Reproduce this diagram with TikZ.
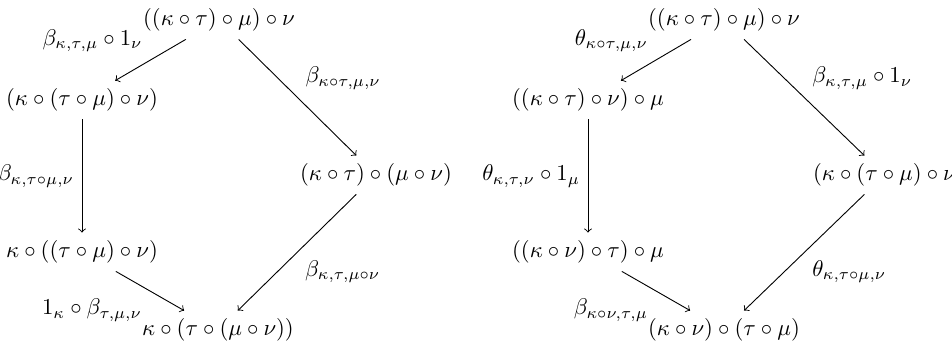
\documentclass[tikz,border=0pt]{standalone}
\begin{document}
\begin{tikzpicture}[x=.44pt,y=-.44pt,>=to]
 \useasboundingbox (0,0) rectangle (952,347);
 % left diagram
 \node (a1) at (219,20) {$((\kappa\circ\tau)\circ\mu)\circ\nu$};
 \node (a2) at (82,100) {$(\kappa\circ(\tau\circ\mu)\circ\nu)$};
 \node (a3) at (376,175) {$(\kappa\circ\tau)\circ(\mu\circ\nu)$};
 \node (a4) at (82,252) {$\kappa\circ((\tau\circ\mu)\circ\nu)$};
 \node (a5) at (218,330) {$\kappa\circ(\tau\circ(\mu\circ\nu))$};
 \draw[->] (a1)--(a2) node[midway,above left] {$\beta_{\kappa,\tau,\mu}\circ 1_\nu$};
 \draw[->] (a1)--(a3) node[midway,above right] {$\beta_{\kappa\circ\tau,\mu,\nu}$};
 \draw[->] (a2)--(a4) node[midway,left] {$\beta_{\kappa,\tau\circ\mu,\nu}$};
 \draw[->] (a3)--(a5) node[midway,below right] {$\beta_{\kappa,\tau,\mu\circ\nu}$};
 \draw[->] (a4)--(a5) node[midway,below left] {$1_\kappa\circ\beta_{\tau,\mu,\nu}$};
 % right diagram
 \node (b1) at (724,20) {$((\kappa\circ\tau)\circ\mu)\circ\nu$};
 \node (b2) at (588,100) {$((\kappa\circ\tau)\circ\nu)\circ\mu$};
 \node[anchor=west] (b3) at (805,175) {$(\kappa\circ(\tau\circ\mu)\circ\nu$};
 \node (b4) at (588,252) {$((\kappa\circ\nu)\circ\tau)\circ\mu$};
 \node (b5) at (724,330) {$(\kappa\circ\nu)\circ(\tau\circ\mu)$};
 \draw[->] (b1)--(b2) node[midway,above left] {$\theta_{\kappa\circ\tau,\mu,\nu}$};
 \draw[->] (b1)--(b3) node[midway,above right] {$\beta_{\kappa,\tau,\mu}\circ 1_\nu$};
 \draw[->] (b2)--(b4) node[midway,left] {$\theta_{\kappa,\tau,\nu}\circ 1_\mu$};
 \draw[->] (b3)--(b5) node[midway,below right] {$\theta_{\kappa,\tau\circ\mu,\nu}$};
 \draw[->] (b4)--(b5) node[midway,below left] {$\beta_{\kappa\circ\nu,\tau,\mu}$};
\end{tikzpicture}
\end{document}
